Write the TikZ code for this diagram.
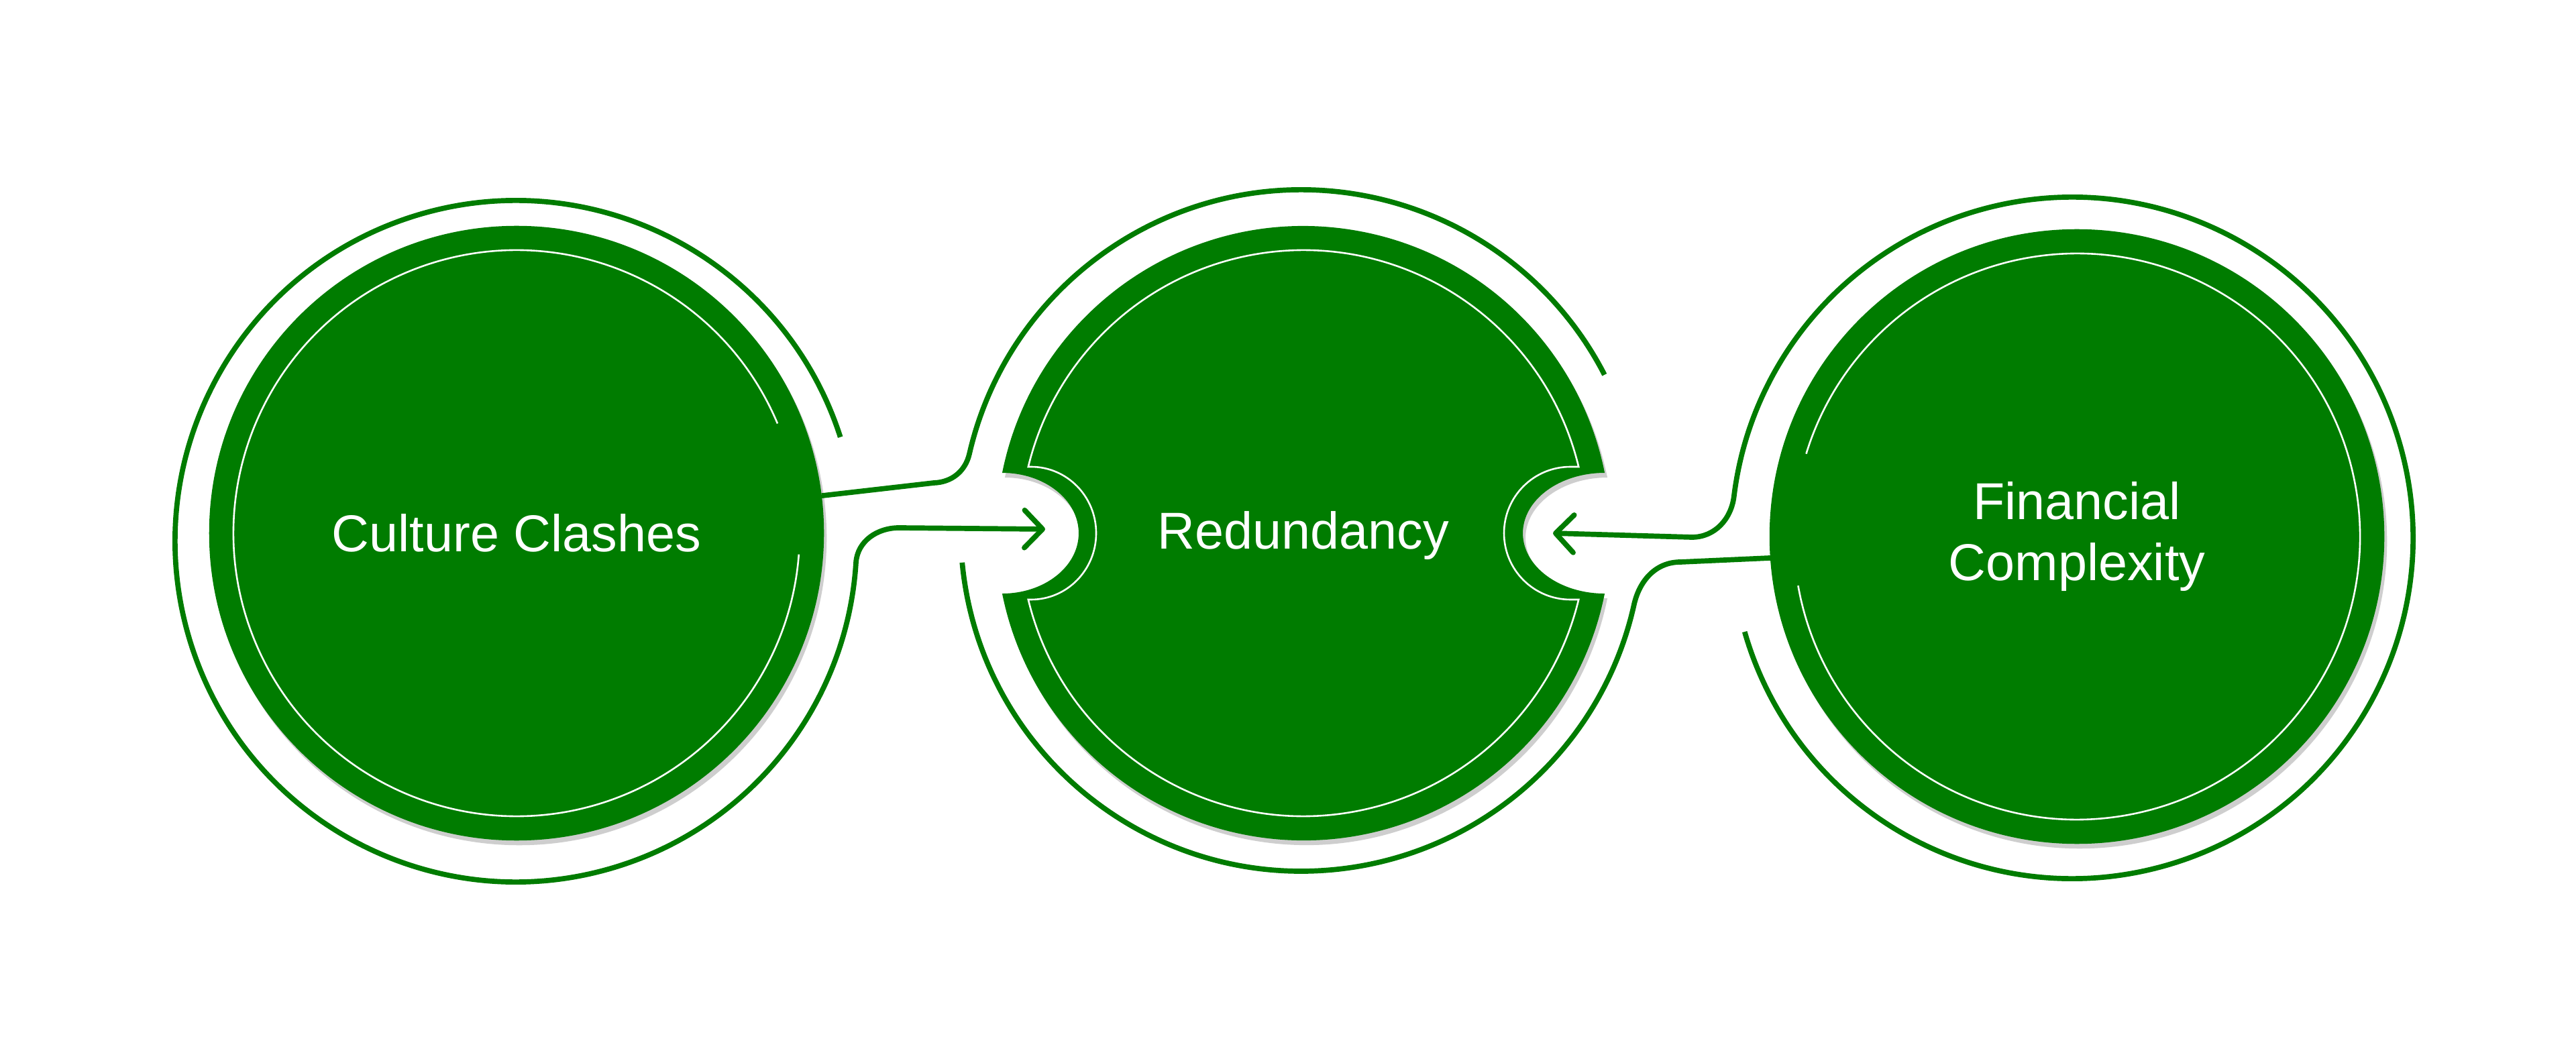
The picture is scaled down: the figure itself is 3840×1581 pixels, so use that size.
\documentclass[tikz,border=0pt]{standalone}
\usepackage{fontspec}
\setmainfont{Liberation Sans}
\usetikzlibrary{arrows.meta,shadows}
\definecolor{G}{RGB}{0,124,0}
\tikzset{
  shadowed/.style={drop shadow={shadow xshift=0.04cm, shadow yshift=-0.07cm, opacity=0.35, fill=black!55}},
  disc/.style={circle, fill=G, minimum size=9.16cm, inner sep=0pt, outer sep=0pt, shadowed,
    text=white, align=center, font=\fontsize{22}{26}\selectfont},
  lbl/.style={text=white, align=center, font=\fontsize{22}{26}\selectfont},
  ring/.style={draw=G, line width=0.077cm},
  inner/.style={draw=white, line width=0.026cm},
  arr/.style={-{Straight Barb[length=0.27cm,width=0.56cm,round]}}
}
\begin{document}
\begin{tikzpicture}[x=0.01cm,y=0.01cm]
\fill[white] (0,0) rectangle (3840,1581);
\useasboundingbox (0,0) rectangle (3840,1581);
% centres
\coordinate (M) at (1943,786);
\coordinate (ccO) at (769,774);
\coordinate (rdO) at (1940,790);
\coordinate (fcO) at (3089,779);
\coordinate (rdL) at (1558,792);
\coordinate (rdR) at (2315,786);
% nodes
\node[disc] (cc) at (770,786) {Culture Clashes};
\node[disc] (fc) at (3096,781) {Financial\\Complexity};
\fill[G, shadowed] ([shift={(168.67:458)}]M) arc[start angle=168.67, end angle=11.33, radius=458]
  arc[start angle=90, end angle=270, x radius=122, y radius=90]
  arc[start angle=-11.33, end angle=-168.67, radius=458]
  arc[start angle=-90, end angle=90, x radius=114, y radius=90] -- cycle;
\node[lbl] (rd) at (1943,783) {Redundancy};
% inner white lines
\draw[inner] ([shift={(22.8:422)}]cc.center) arc[start angle=22.8, end angle=355.7, radius=422];
\draw[inner] ([shift={(190:422)}]fc.center) arc[start angle=190, end angle=523, radius=422];
\draw[inner] ([shift={(13.57:422)}]M) arc[start angle=13.57, end angle=166.43, radius=422]
  -- (1537,885) arc[start angle=90, end angle=-90, x radius=97, y radius=99]
  -- ([shift={(193.57:422)}]M) arc[start angle=193.57, end angle=346.43, radius=422]
  -- (2341,687) arc[start angle=270, end angle=90, x radius=99, y radius=99] -- cycle;
% outer rings and connectors
\draw[ring, arr] ([shift={(17.8:508)}]ccO) arc[start angle=17.8, end angle=356.4, radius=508]
  to[out=86, in=180] (1340,794) -- (rdL);
\draw[ring] (cc.7.6) -- (1392,861) to[out=2, in=257] ([shift={(167:508)}]rdO)
  arc[start angle=167, end angle=27.2, radius=508];
\draw[ring] ([shift={(185.4:508)}]rdO) arc[start angle=185.4, end angle=347.5, radius=508]
  to[out=77, in=180] (2505,743) -- (fc.184.4);
\draw[ring, arr] ([shift={(196:508)}]fcO) arc[start angle=196, end angle=533, radius=508]
  to[out=263, in=0] (2522,780) -- (rdR);
\end{tikzpicture}
\end{document}
